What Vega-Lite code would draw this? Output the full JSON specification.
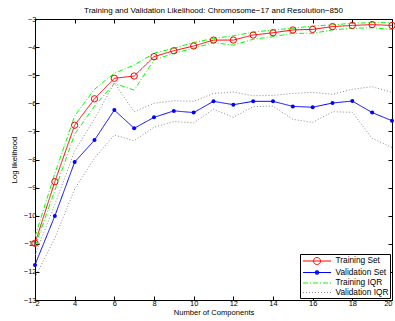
{
  "$schema": "https://vega.github.io/schema/vega-lite/v6.json",
  "width": 357,
  "height": 281,
  "autosize": "none",
  "padding": {"left": 35, "top": 19, "right": 3, "bottom": 21},
  "title": {"text": "Training and Validation Likelihood: Chromosome−17 and Resolution−850", "fontSize": 8, "fontWeight": "normal", "font": "Liberation Sans", "offset": 0, "anchor": "middle", "color": "black"},
  "config": {
    "view": {"stroke": "black", "strokeWidth": 1},
    "axis": {"grid": false, "domain": false, "tickColor": "black", "tickSize": -4, "labelFont": "Liberation Sans", "labelFontSize": 7.5, "labelColor": "black", "titleFont": "Liberation Sans", "titleFontSize": 7.6, "titleFontWeight": "normal", "titleColor": "black"}
  },
  "resolve": {"axis": {"x": "independent", "y": "independent"}},
  "datasets": {
    "d": [
      {"n":2,"series":"Training Set","band":"m","v":-10.98},{"n":3,"series":"Training Set","band":"m","v":-8.79},{"n":4,"series":"Training Set","band":"m","v":-6.78},{"n":5,"series":"Training Set","band":"m","v":-5.84},{"n":6,"series":"Training Set","band":"m","v":-5.11},{"n":7,"series":"Training Set","band":"m","v":-5.03},{"n":8,"series":"Training Set","band":"m","v":-4.34},{"n":9,"series":"Training Set","band":"m","v":-4.13},{"n":10,"series":"Training Set","band":"m","v":-3.96},{"n":11,"series":"Training Set","band":"m","v":-3.75},{"n":12,"series":"Training Set","band":"m","v":-3.75},{"n":13,"series":"Training Set","band":"m","v":-3.57},{"n":14,"series":"Training Set","band":"m","v":-3.49},{"n":15,"series":"Training Set","band":"m","v":-3.39},{"n":16,"series":"Training Set","band":"m","v":-3.37},{"n":17,"series":"Training Set","band":"m","v":-3.27},{"n":18,"series":"Training Set","band":"m","v":-3.23},{"n":19,"series":"Training Set","band":"m","v":-3.2},{"n":20,"series":"Training Set","band":"m","v":-3.23},
      {"n":2,"series":"Validation Set","band":"m","v":-11.75},{"n":3,"series":"Validation Set","band":"m","v":-10.01},{"n":4,"series":"Validation Set","band":"m","v":-8.09},{"n":5,"series":"Validation Set","band":"m","v":-7.31},{"n":6,"series":"Validation Set","band":"m","v":-6.24},{"n":7,"series":"Validation Set","band":"m","v":-6.89},{"n":8,"series":"Validation Set","band":"m","v":-6.5},{"n":9,"series":"Validation Set","band":"m","v":-6.27},{"n":10,"series":"Validation Set","band":"m","v":-6.33},{"n":11,"series":"Validation Set","band":"m","v":-5.93},{"n":12,"series":"Validation Set","band":"m","v":-6.05},{"n":13,"series":"Validation Set","band":"m","v":-5.93},{"n":14,"series":"Validation Set","band":"m","v":-5.93},{"n":15,"series":"Validation Set","band":"m","v":-6.11},{"n":16,"series":"Validation Set","band":"m","v":-6.14},{"n":17,"series":"Validation Set","band":"m","v":-5.99},{"n":18,"series":"Validation Set","band":"m","v":-5.92},{"n":19,"series":"Validation Set","band":"m","v":-6.33},{"n":20,"series":"Validation Set","band":"m","v":-6.62},
      {"n":2,"series":"Training IQR","band":"u","v":-10.75},{"n":3,"series":"Training IQR","band":"u","v":-8.5},{"n":4,"series":"Training IQR","band":"u","v":-6.45},{"n":5,"series":"Training IQR","band":"u","v":-5.5},{"n":6,"series":"Training IQR","band":"u","v":-4.93},{"n":7,"series":"Training IQR","band":"u","v":-4.64},{"n":8,"series":"Training IQR","band":"u","v":-4.22},{"n":9,"series":"Training IQR","band":"u","v":-4.04},{"n":10,"series":"Training IQR","band":"u","v":-3.84},{"n":11,"series":"Training IQR","band":"u","v":-3.69},{"n":12,"series":"Training IQR","band":"u","v":-3.6},{"n":13,"series":"Training IQR","band":"u","v":-3.47},{"n":14,"series":"Training IQR","band":"u","v":-3.39},{"n":15,"series":"Training IQR","band":"u","v":-3.33},{"n":16,"series":"Training IQR","band":"u","v":-3.25},{"n":17,"series":"Training IQR","band":"u","v":-3.21},{"n":18,"series":"Training IQR","band":"u","v":-3.15},{"n":19,"series":"Training IQR","band":"u","v":-3.13},{"n":20,"series":"Training IQR","band":"u","v":-3.13},
      {"n":2,"series":"Training IQR","band":"l","v":-11.1},{"n":3,"series":"Training IQR","band":"l","v":-9.1},{"n":4,"series":"Training IQR","band":"l","v":-7.1},{"n":5,"series":"Training IQR","band":"l","v":-6.1},{"n":6,"series":"Training IQR","band":"l","v":-5.29},{"n":7,"series":"Training IQR","band":"l","v":-5.53},{"n":8,"series":"Training IQR","band":"l","v":-4.46},{"n":9,"series":"Training IQR","band":"l","v":-4.22},{"n":10,"series":"Training IQR","band":"l","v":-4.04},{"n":11,"series":"Training IQR","band":"l","v":-3.84},{"n":12,"series":"Training IQR","band":"l","v":-3.93},{"n":13,"series":"Training IQR","band":"l","v":-3.72},{"n":14,"series":"Training IQR","band":"l","v":-3.63},{"n":15,"series":"Training IQR","band":"l","v":-3.51},{"n":16,"series":"Training IQR","band":"l","v":-3.51},{"n":17,"series":"Training IQR","band":"l","v":-3.39},{"n":18,"series":"Training IQR","band":"l","v":-3.33},{"n":19,"series":"Training IQR","band":"l","v":-3.31},{"n":20,"series":"Training IQR","band":"l","v":-3.37},
      {"n":2,"series":"Validation IQR","band":"u","v":-11.4},{"n":3,"series":"Validation IQR","band":"u","v":-9.6},{"n":4,"series":"Validation IQR","band":"u","v":-7.7},{"n":5,"series":"Validation IQR","band":"u","v":-6.55},{"n":6,"series":"Validation IQR","band":"u","v":-5.28},{"n":7,"series":"Validation IQR","band":"u","v":-6.3},{"n":8,"series":"Validation IQR","band":"u","v":-6.0},{"n":9,"series":"Validation IQR","band":"u","v":-5.91},{"n":10,"series":"Validation IQR","band":"u","v":-5.93},{"n":11,"series":"Validation IQR","band":"u","v":-5.65},{"n":12,"series":"Validation IQR","band":"u","v":-5.6},{"n":13,"series":"Validation IQR","band":"u","v":-5.73},{"n":14,"series":"Validation IQR","band":"u","v":-5.72},{"n":15,"series":"Validation IQR","band":"u","v":-5.65},{"n":16,"series":"Validation IQR","band":"u","v":-5.61},{"n":17,"series":"Validation IQR","band":"u","v":-5.68},{"n":18,"series":"Validation IQR","band":"u","v":-5.5},{"n":19,"series":"Validation IQR","band":"u","v":-5.41},{"n":20,"series":"Validation IQR","band":"u","v":-5.61},
      {"n":2,"series":"Validation IQR","band":"l","v":-12.2},{"n":3,"series":"Validation IQR","band":"l","v":-10.8},{"n":4,"series":"Validation IQR","band":"l","v":-9.05},{"n":5,"series":"Validation IQR","band":"l","v":-7.95},{"n":6,"series":"Validation IQR","band":"l","v":-7.13},{"n":7,"series":"Validation IQR","band":"l","v":-7.33},{"n":8,"series":"Validation IQR","band":"l","v":-6.85},{"n":9,"series":"Validation IQR","band":"l","v":-6.65},{"n":10,"series":"Validation IQR","band":"l","v":-6.7},{"n":11,"series":"Validation IQR","band":"l","v":-6.21},{"n":12,"series":"Validation IQR","band":"l","v":-6.5},{"n":13,"series":"Validation IQR","band":"l","v":-6.12},{"n":14,"series":"Validation IQR","band":"l","v":-6.1},{"n":15,"series":"Validation IQR","band":"l","v":-6.57},{"n":16,"series":"Validation IQR","band":"l","v":-6.68},{"n":17,"series":"Validation IQR","band":"l","v":-6.3},{"n":18,"series":"Validation IQR","band":"l","v":-6.32},{"n":19,"series":"Validation IQR","band":"l","v":-7.25},{"n":20,"series":"Validation IQR","band":"l","v":-7.57}
    ]
  },
  "data": {"name": "d"},
  "encoding": {
    "x": {"field": "n", "type": "quantitative", "scale": {"domain": [2, 20], "nice": false, "zero": false}, "axis": null},
    "y": {"field": "v", "type": "quantitative", "scale": {"domain": [-13, -3], "nice": false, "zero": false}, "axis": null}
  },
  "layer": [
    {
      "mark": {"type": "line", "strokeWidth": 1, "clip": true},
      "encoding": {
        "x": {"field": "n", "type": "quantitative", "axis": {"orient": "bottom", "values": [2,4,6,8,10,12,14,16,18,20], "labelPadding": 3, "title": "Number of Components", "titlePadding": 2}},
        "y": {"field": "v", "type": "quantitative", "axis": {"orient": "left", "values": [-13,-12,-11,-10,-9,-8,-7,-6,-5,-4,-3], "labelPadding": 3, "title": "Log likelihood", "titlePadding": 5}},
        "color": {"field": "series", "type": "nominal", "scale": {"domain": ["Training Set", "Validation Set", "Training IQR", "Validation IQR"], "range": ["#ff0000", "#0000ff", "#00ff00", "#8c8c8c"]}},
        "strokeDash": {"field": "series", "type": "nominal", "scale": {"domain": ["Training Set", "Validation Set", "Training IQR", "Validation IQR"], "range": [[1, 0], [1, 0], [5, 2, 1, 2], [1, 2]]}},
        "detail": {"field": "band"}
      }
    },
    {
      "transform": [{"filter": "datum.series == 'Training Set'"}],
      "mark": {"type": "point", "shape": "circle", "size": 40, "filled": false, "stroke": "#ff0000", "strokeWidth": 1, "opacity": 1}
    },
    {
      "transform": [{"filter": "datum.series == 'Validation Set'"}],
      "mark": {"type": "point", "shape": "circle", "size": 16, "filled": true, "color": "#0000ff", "opacity": 1}
    },
    {
      "transform": [{"filter": "datum.n > 100"}],
      "mark": {"type": "point", "filled": false, "strokeWidth": 1, "opacity": 1},
      "encoding": {
        "color": {"field": "series", "type": "nominal", "legend": {"orient": "bottom-right", "offset": 2, "title": null, "labelFont": "Liberation Sans", "labelFontSize": 8.3, "labelColor": "black", "symbolSize": 100, "symbolStrokeWidth": 1, "symbolOffset": 10, "labelOffset": 13, "strokeColor": "black", "fillColor": "white", "padding": 1.5, "rowPadding": 0.5}},
        "strokeDash": {"field": "series", "type": "nominal"},
        "shape": {"field": "series", "type": "nominal", "scale": {"domain": ["Training Set", "Validation Set", "Training IQR", "Validation IQR"], "range": ["M-2.8,0H2.8M0.7,0A0.7,0.7 0 1,1 -0.7,0A0.7,0.7 0 1,1 0.7,0", "M-2.8,0H2.8M0.35,0A0.35,0.35 0 1,1 -0.35,0A0.35,0.35 0 1,1 0.35,0M-0.4,-0.25H0.4M-0.4,0.25H0.4", "M-2.8,0H2.8", "M-2.8,0H2.8"]}}
      }
    },
    {
      "transform": [{"filter": "datum.series == 'Training Set'"}],
      "mark": {"type": "point", "opacity": 0},
      "encoding": {
        "x": {"field": "n", "type": "quantitative", "axis": {"orient": "top", "values": [2,4,6,8,10,12,14,16,18,20], "labels": false, "title": null}},
        "y": {"field": "v", "type": "quantitative", "axis": {"orient": "right", "values": [-13,-12,-11,-10,-9,-8,-7,-6,-5,-4,-3], "labels": false, "title": null}}
      }
    }
  ]
}
